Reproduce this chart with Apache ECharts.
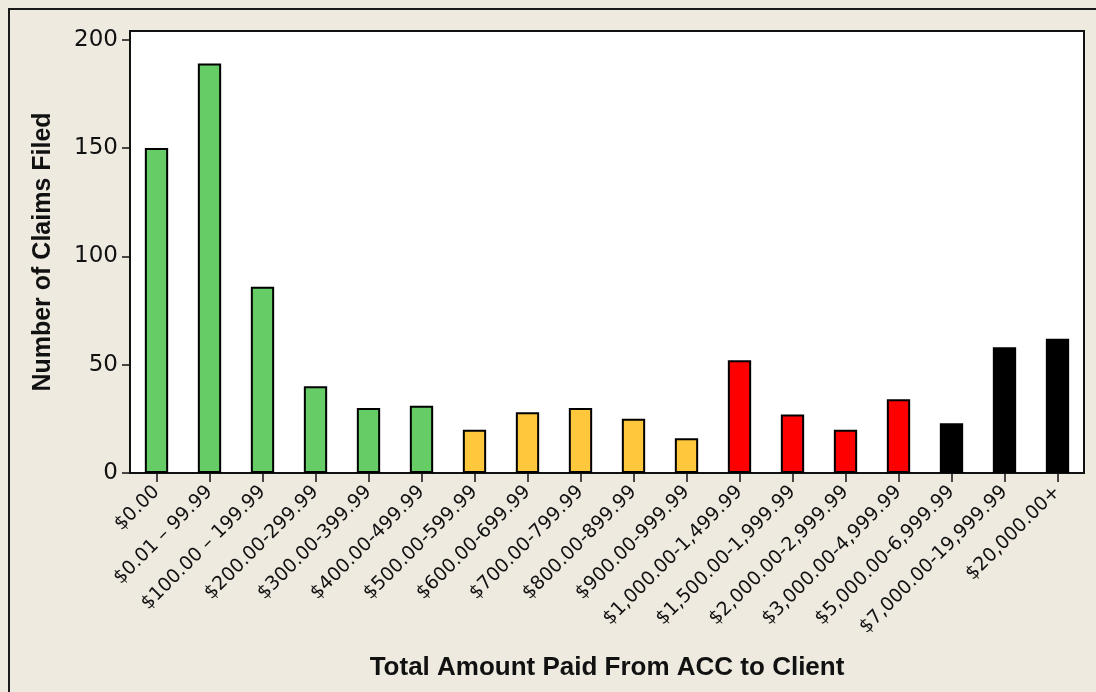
<!DOCTYPE html>
<html>
<head>
<meta charset="utf-8">
<script src="https://cdn.jsdelivr.net/npm/echarts@6/dist/echarts.min.js"></script>
<style>
html,body{margin:0;padding:0;background:#EEEAE0;}
#chart{width:1096px;height:692px;}
</style>
</head>
<body>
<div id="chart"></div>
<script>
var categories = ["$0.00", "$0.01 \u2013 99.99", "$100.00 \u2013 199.99", "$200.00-299.99", "$300.00-399.99", "$400.00-499.99", "$500.00-599.99", "$600.00-699.99", "$700.00-799.99", "$800.00-899.99", "$900.00-999.99", "$1,000.00-1,499.99", "$1,500.00-1,999.99", "$2,000.00-2,999.99", "$3,000.00-4,999.99", "$5,000.00-6,999.99", "$7,000.00-19,999.99", "$20,000.00+"];
var claims = [150, 189, 86, 40, 30, 31, 20, 28, 30, 25, 16, 52, 27, 20, 34, 23, 58, 62];
var groupOfBar = [0, 0, 0, 0, 0, 0, 1, 1, 1, 1, 1, 2, 2, 2, 2, 3, 3, 3];
var groupColors = ["#66CC66", "#FFC83C", "#FF0000", "#000000"];
var yTicks = [0, 50, 100, 150, 200];

var chart = echarts.init(document.getElementById('chart'), null, {renderer: 'canvas'});
var option = {
  backgroundColor: '#EEEAE0',
  animation: false,
  graphic: [{
    type: 'rect',
    shape: {x: 9, y: 9, width: 1200, height: 800},
    style: {fill: 'none', stroke: '#1a1a1a', lineWidth: 2},
    z: 100
  }],
  grid: {
    left: 130, top: 31, right: 12, bottom: 219,
    show: true, backgroundColor: '#FFFFFF', borderColor: '#111', borderWidth: 2
  },
  xAxis: {
    type: 'category',
    data: categories,
    name: 'Total Amount Paid From ACC to Client',
    nameLocation: 'middle',
    nameGap: 182,
    nameTextStyle: {fontFamily: 'Liberation Sans', fontWeight: 'bold', fontSize: 26, color: '#111'},
    axisLine: {show: true, lineStyle: {color: '#111', width: 2}},
    axisTick: {show: true, alignWithLabel: true, length: 9, lineStyle: {color: '#111', width: 1.5}},
    axisLabel: {rotate: 45, interval: 0, margin: 16, fontFamily: 'DejaVu Sans', fontSize: 19, color: '#111'},
    splitLine: {show: false}
  },
  yAxis: {
    type: 'value',
    min: 0, max: 204,
    name: 'Number of Claims Filed',
    nameLocation: 'middle',
    nameGap: 74,
    nameRotate: 90,
    nameTextStyle: {fontFamily: 'Liberation Sans', fontWeight: 'bold', fontSize: 25, color: '#111'},
    axisLine: {show: true, lineStyle: {color: '#111', width: 2}},
    axisTick: {show: true, length: 8, customValues: yTicks, lineStyle: {color: '#111', width: 1.5}},
    axisLabel: {customValues: yTicks, margin: 12, fontFamily: 'DejaVu Sans', fontSize: 23, color: '#111'},
    splitLine: {show: false}
  },
  series: [{
    type: 'bar',
    barWidth: '44%',
    data: claims.map(function (v, i) {
      return {value: v, itemStyle: {color: groupColors[groupOfBar[i]]}};
    }),
    itemStyle: {borderColor: '#000', borderWidth: 2}
  }]
};
chart.setOption(option);
</script>
</body>
</html>
